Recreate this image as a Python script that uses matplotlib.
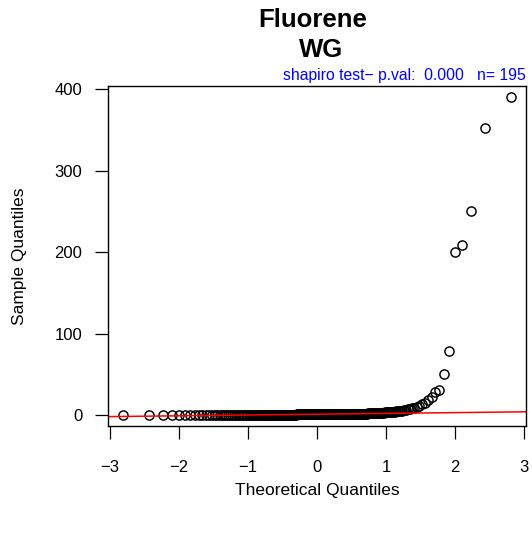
import numpy as np
import matplotlib
matplotlib.use("Agg")
import matplotlib.pyplot as plt
from statistics import NormalDist

# sorted Fluorene (WG) sample values, n = 195
sample_vals = [
    0.00, 0.02, 0.04, 0.05, 0.07, 0.08, 0.09, 0.10, 0.11, 0.12,
    0.13, 0.13, 0.14, 0.14, 0.15, 0.15, 0.16, 0.16, 0.17, 0.17,
    0.18, 0.18, 0.19, 0.19, 0.20, 0.20, 0.21, 0.21, 0.22, 0.22,
    0.23, 0.23, 0.24, 0.24, 0.25, 0.25, 0.25, 0.26, 0.26, 0.27,
    0.27, 0.27, 0.28, 0.28, 0.28, 0.29, 0.29, 0.30, 0.30,
    0.31, 0.32, 0.33, 0.34, 0.35, 0.37, 0.38, 0.39, 0.40, 0.41,
    0.42, 0.44, 0.45, 0.46, 0.47, 0.48, 0.50, 0.51, 0.52, 0.53,
    0.54, 0.56, 0.57, 0.58, 0.59, 0.60, 0.62, 0.63, 0.64, 0.65,
    0.66, 0.68, 0.69, 0.70, 0.71, 0.72, 0.74, 0.75, 0.76, 0.77,
    0.78, 0.80, 0.81, 0.82, 0.83, 0.85, 0.86, 0.88, 0.90,
    0.91, 0.93, 0.94, 0.96, 0.97, 0.99, 1.00, 1.02, 1.03, 1.05,
    1.06, 1.08, 1.09, 1.11, 1.12, 1.14, 1.15, 1.17, 1.18, 1.20,
    1.21, 1.23, 1.24, 1.26, 1.27, 1.29, 1.30, 1.32, 1.33, 1.35,
    1.36, 1.38, 1.39, 1.41, 1.42, 1.44, 1.45, 1.47, 1.48, 1.50,
    1.51, 1.52, 1.54, 1.55, 1.56, 1.57, 1.59, 1.60,
    1.65, 1.70, 1.76, 1.82, 1.88, 1.95, 2.02, 2.09, 2.17, 2.25,
    2.34, 2.43, 2.53, 2.63, 2.74, 2.86, 2.98, 3.11, 3.25, 3.40,
    3.56, 3.74, 3.95, 4.20,
    4.5, 4.8, 5.1, 5.5, 5.9, 6.3, 6.8, 7.4, 8.1, 9.0, 10.1, 11.5, 13.0, 15.0,
    18.0, 21.7, 27.8, 30.7, 50.0, 78.0, 200.0, 209.0, 250.0, 352.0, 390.0,
]
x_ticks = [-3, -2, -1, 0, 1, 2, 3]
y_ticks = [0, 100, 200, 300, 400]
subtitle = "shapiro test\u2212 p.val:  0.000   n= 195"

plt.rcParams['font.family'] = ['Liberation Sans', 'DejaVu Sans']

y = np.sort(np.array(sample_vals))
n = len(y)
nd = NormalDist()
probs = (np.arange(1, n + 1) - 0.5) / n
x = np.array([nd.inv_cdf(p) for p in probs])

# qqline through the quartiles
q1, q3 = np.quantile(y, [0.25, 0.75])
t1, t3 = nd.inv_cdf(0.25), nd.inv_cdf(0.75)
slope = (q3 - q1) / (t3 - t1)
intercept = q1 - slope * t1

W, H = 532, 533
fig = plt.figure(figsize=(W / 100, H / 100), dpi=100)
ax = fig.add_axes([108 / W, 1 - 426 / H, 418 / W, 340 / H])

ax.plot(x, y, 'o', ms=6.6, mfc='none', mec='black', mew=1.05)
ax.axline((0, intercept), slope=slope, color='red', lw=1.1)

xr = x.max() - x.min()
ax.set_xlim(x.min() - 0.04 * xr, x.max() + 0.04 * xr)
ax.set_ylim(-13.5, 403.7)

ax.set_xticks(x_ticks)
ax.set_yticks(y_ticks)
ax.tick_params(axis='x', length=9.5, width=0.9, pad=15, labelsize=12)
ax.tick_params(axis='y', length=9.5, width=0.9, pad=9, labelsize=12)
for s in ax.spines.values():
    s.set_linewidth(1.0)

fig.text(20 / W, 1 - 256 / H, "Sample Quantiles", rotation=90,
         ha='center', va='center', fontsize=12.5)
fig.text(317 / W, 1 - 490 / H, "Theoretical Quantiles",
         ha='center', va='center', fontsize=12.5)

fig.text(313 / W, 1 - 27 / H, "Fluorene", ha='center', va='baseline',
         fontsize=18.5, fontweight='bold')
fig.text(321 / W, 1 - 57 / H, "WG", ha='center', va='baseline',
         fontsize=18.5, fontweight='bold')
fig.text(526 / W, 1 - 80 / H, subtitle, ha='right', va='baseline',
         fontsize=11.3, color='#0000ff')

fig.savefig("out.png", dpi=100)
